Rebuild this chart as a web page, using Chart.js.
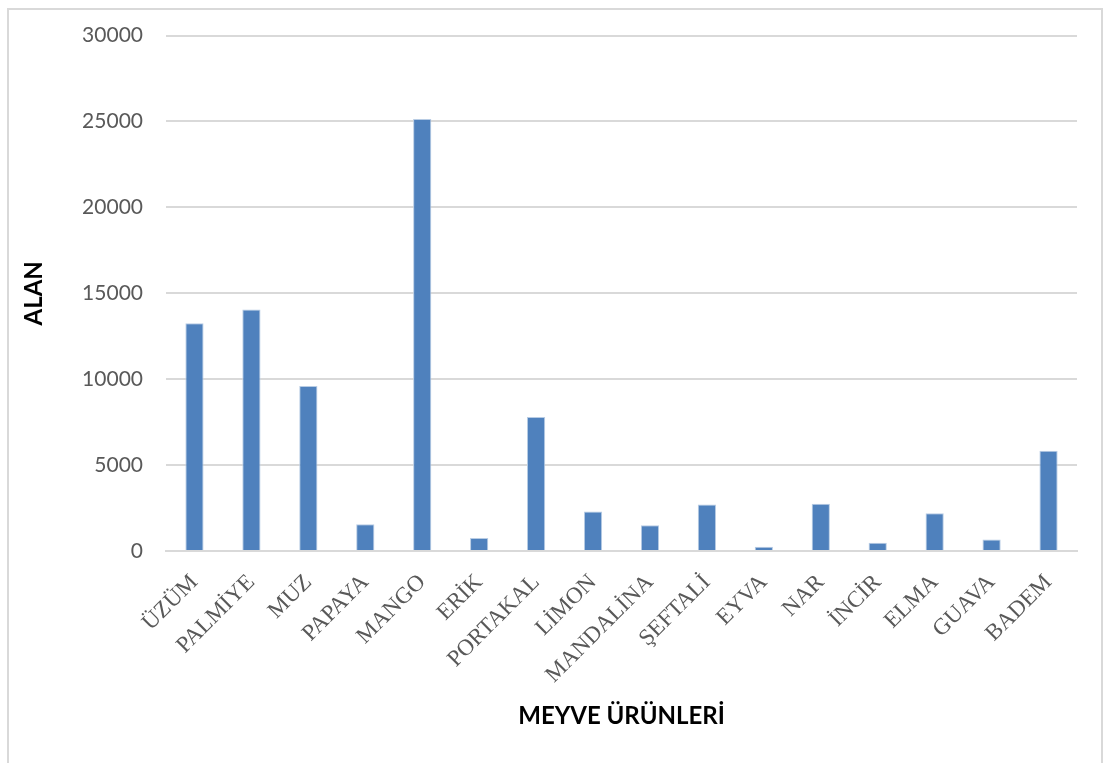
<!DOCTYPE html>
<html>
<head>
<meta charset="utf-8">
<script src="https://cdn.jsdelivr.net/npm/chart.js@4"></script>
<style>
  html, body { margin: 0; padding: 0; background: #ffffff; }
  body { width: 1112px; height: 763px; position: relative; overflow: hidden; }
  #frame {
    position: absolute; left: 7px; top: 8px; width: 1096px; height: 800px;
    border: 2px solid #d9d9d9; box-sizing: border-box;
  }
  #wrap { position: absolute; left: 0; top: 0; width: 1112px; height: 763px; }
</style>
</head>
<body>
<div id="frame"></div>
<div id="wrap"><canvas id="c" width="1112" height="763"></canvas></div>
<script>
// Fruit crops and their planted area
const categories = ['ÜZÜM', 'PALMİYE', 'MUZ', 'PAPAYA', 'MANGO', 'ERİK', 'PORTAKAL', 'LİMON',
  'MANDALİNA', 'ŞEFTALİ', 'EYVA', 'NAR', 'İNCİR', 'ELMA', 'GUAVA', 'BADEM'];
const areaValues = [13250, 14050, 9600, 1550, 25150, 750, 7800, 2300,
  1500, 2700, 250, 2750, 480, 2200, 670, 5830];
const yTicks = [0, 5000, 10000, 15000, 20000, 25000, 30000];
const yTitle = 'ALAN';
const xTitle = 'MEYVE ÜRÜNLERİ';

const ctx = document.getElementById('c').getContext('2d');
new Chart(ctx, {
  type: 'bar',
  data: {
    labels: categories,
    datasets: [{
      data: areaValues,
      backgroundColor: '#4f81bd',
      borderColor: '#b8cce4',
      borderWidth: 1,
      barPercentage: 0.64,
      categoryPercentage: 0.5
    }]
  },
  options: {
    responsive: false,
    animation: false,
    layout: { padding: { top: 33, right: 35, left: 0, bottom: 0 } },
    plugins: { legend: { display: false }, tooltip: { enabled: false } },
    scales: {
      x: {
        grid: { display: false, drawTicks: false },
        border: { display: true, color: '#d9d9d9', width: 2 },
        ticks: {
          autoSkip: false, maxRotation: 45, minRotation: 45,
          color: '#595959', padding: 18,
          font: { family: '"Liberation Serif", "Times New Roman", serif', size: 23 }
        },
        title: {
          display: true, text: xTitle, color: '#000000',
          font: { family: 'Lato, "Open Sans", sans-serif', size: 24, weight: 'bold' },
          padding: { top: 0, bottom: 32 }
        },
        afterFit: (s) => { s.height = 212; }
      },
      y: {
        min: 0, max: 30000,
        afterBuildTicks: (s) => { s.ticks = yTicks.map(v => ({ value: v })); },
        grid: { color: '#d9d9d9', lineWidth: 2, drawTicks: false },
        border: { display: false },
        ticks: {
          color: '#595959', padding: 23,
          font: { family: 'Lato, "Open Sans", sans-serif', size: 21 },
          callback: (v) => String(v)
        },
        title: {
          display: true, text: yTitle, color: '#000000',
          font: { family: 'Lato, "Open Sans", sans-serif', size: 24, weight: 'bold' },
          padding: { top: 20, bottom: 0 }
        },
        afterFit: (s) => { s.width = 166; }
      }
    }
  }
});
</script>
</body>
</html>
